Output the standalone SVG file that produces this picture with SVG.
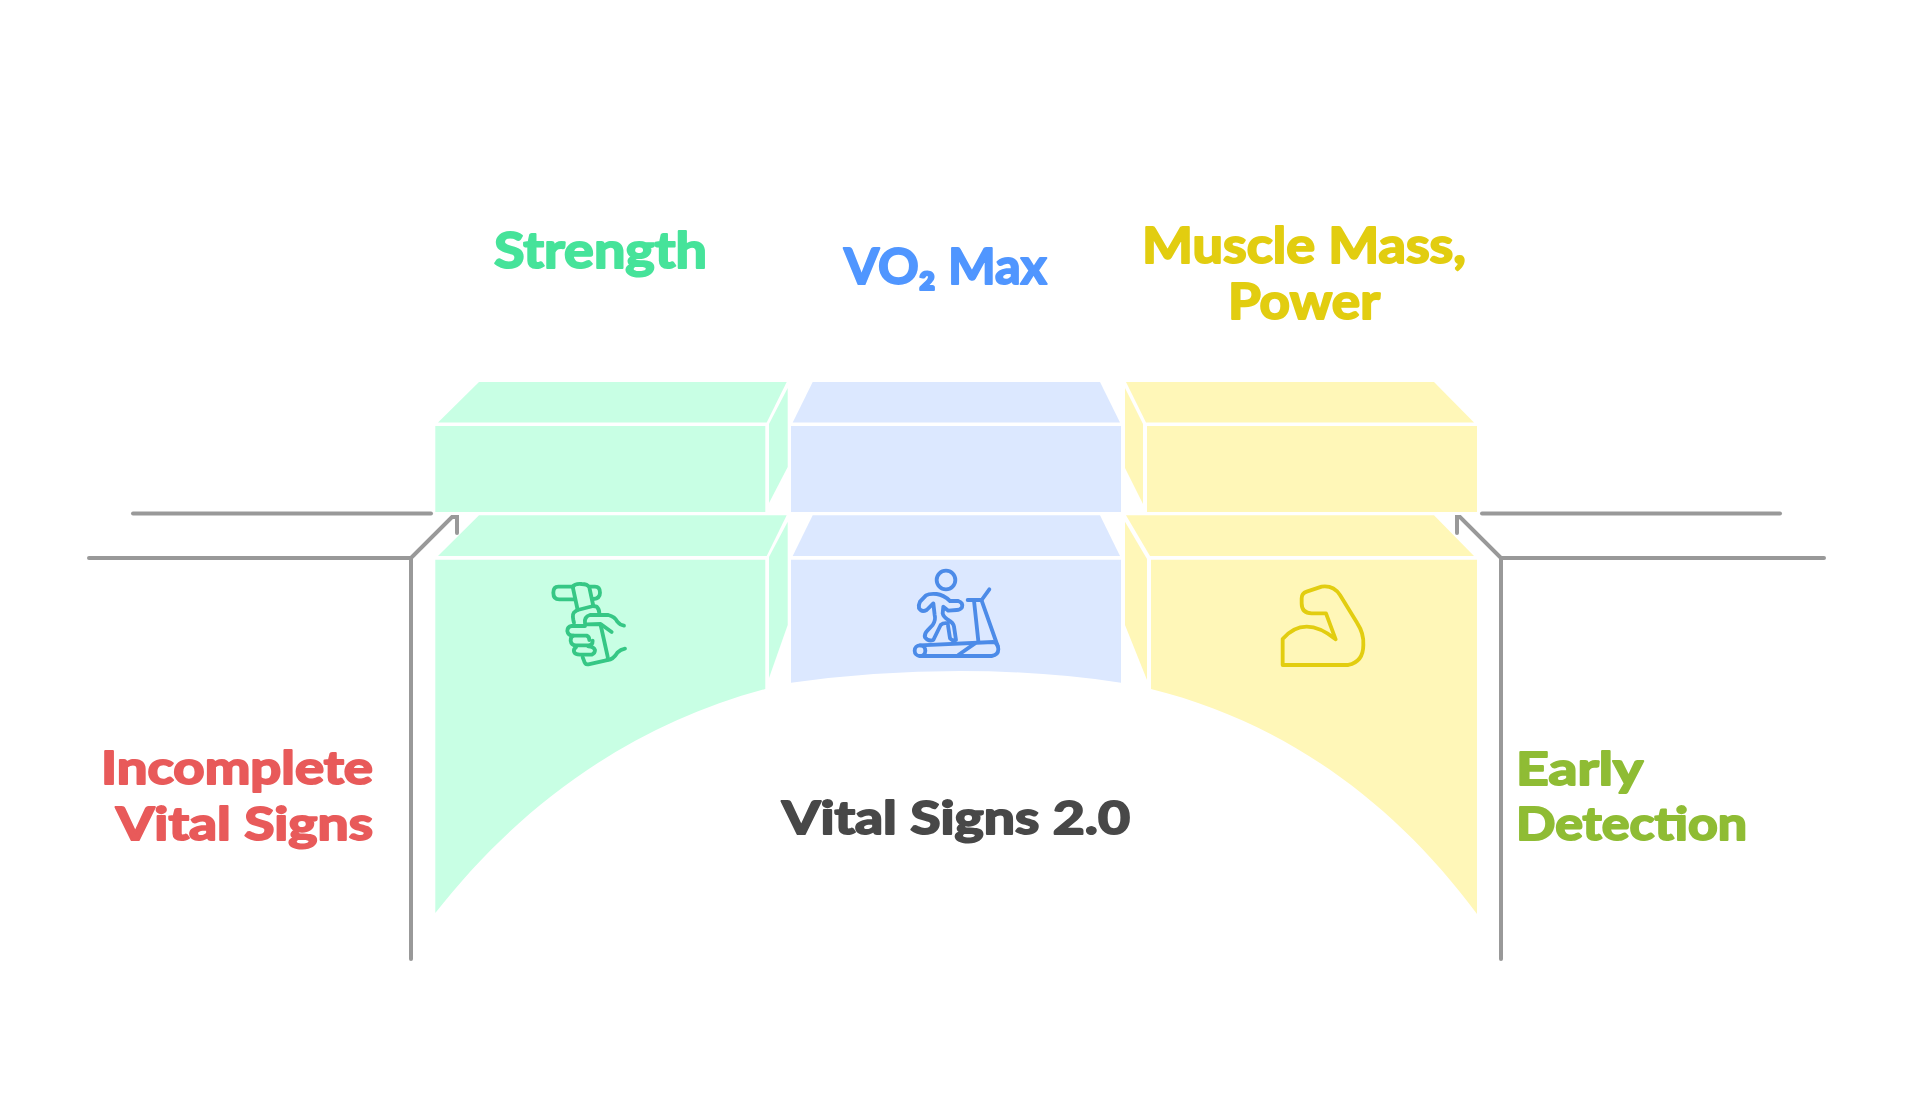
<svg xmlns="http://www.w3.org/2000/svg" width="1920" height="1118" viewBox="0 0 1920 1118">
<style>
.g{fill:#c8ffe4}.b{fill:#dce8ff}.y{fill:#fff7b8}
.c{fill:none;stroke:#999;stroke-width:4;stroke-linecap:round;stroke-linejoin:miter}
.ic{fill:none;stroke-width:11.500;stroke-linecap:round;stroke-linejoin:round}
text{font-family:"Lato","Noto Sans",sans-serif;font-weight:700;stroke-width:2;stroke-linejoin:round}
.t{font-size:46px}.u{font-size:50px}
</style>
<rect width="1920" height="1118" fill="#fff"/>
<g id="connectors">
<path class="c" d="M133 513.500H431"/>
<path class="c" d="M89 558H411L452 517H457V533"/>
<path class="c" d="M411 558V959"/>
<path class="c" d="M1482 513.500H1780"/>
<path class="c" d="M1824 558H1501L1460 517H1457V533"/>
<path class="c" d="M1501 558V959"/>
</g>
<g id="node-strength">
<polygon class="g" points="479,382 786.700,382 766.700,422.500 438,422.500"/>
<polygon class="g" points="787.700,388 769,424 769,503 787.700,467"/>
<rect class="g" x="435.300" y="426" width="330" height="86"/>
<polygon class="g" points="479,515.300 786.700,515.300 766.700,556 438,556"/>
<polygon class="g" points="787.700,521.700 769,557 769,678 787.700,625"/>
<path class="g" d="M435.300 559.700H765.300V689C630 725 520 805 435.300 913Z"/>
<g class="ic" stroke="#36c785" transform="translate(530 570) scale(.3333)">
<path d="M130 50H85Q70 50 70 68Q70 88 88 88H135"/>
<path d="M180 50H195Q210 50 210 68Q210 85 190 87"/>
<path d="M128 50Q135 40 155 42Q172 42 178 52L190 108L143 120Z"/>
<path d="M143 120L135 125Q126 130 130 150L132 158"/>
<path d="M190 108L200 110Q208 118 208 130"/>
<path d="M165 160Q162 140 180 135H235Q255 140 262 155Q270 165 282 167"/>
<path d="M170 163L212 162Q230 175 245 186"/>
<path d="M212 165L233 260Q236 270 225 272L175 283Q165 285 162 272L158 262"/>
<path d="M165 168H125Q112 170 112 183Q114 197 130 197H170Q178 200 178 210"/>
<path d="M130 197Q122 200 122 212Q124 226 138 226H175Q188 226 188 212"/>
<path d="M138 232Q130 237 132 245Q135 254 150 254H185Q195 250 195 240Q192 230 175 229"/>
<path d="M233 270Q250 268 262 248Q272 238 285 236"/>
</g>
<text class="u" x="494" y="268" fill="#46e39a" stroke="#46e39a" textLength="213" lengthAdjust="spacingAndGlyphs">Strength</text>
</g>
<g id="node-vo2">
<polygon class="b" points="812.700,382 1100,382 1120,422.500 792.700,422.500"/>
<rect class="b" x="791" y="426" width="330" height="86"/>
<polygon class="b" points="812.700,515.300 1100,515.300 1120,556 792.700,556"/>
<path class="b" d="M791 559.700H1121V682.700Q1045 671 960 671Q875 671 791 682.700Z"/>
<g class="ic" stroke="#4c8be8" transform="translate(900 560) scale(.3333)">
<circle cx="138" cy="60" r="28"/>
<path d="M60 125L78 106Q88 100 110 102Q130 104 150 123L175 123Q190 128 186 142Q180 150 170 150L145 152L130 140L128 160Q130 170 145 180Q160 188 162 200L168 240Q160 245 150 235L143 190Q130 188 122 195L100 240Q85 245 75 232Q72 222 82 212L98 195Q108 180 104 165L100 130L80 150Q65 158 57 145Q55 135 60 125Z"/>
<circle cx="60" cy="272" r="16"/>
<path d="M60 256L280 246Q295 250 295 268Q295 285 275 288H60"/>
<path d="M175 285L225 250"/>
<path d="M222 122L235 243"/>
<path d="M245 122L293 258"/>
<path d="M203 120H245L268 88"/>
</g>
<text class="u" x="844" y="284" fill="#5096ff" stroke="#5096ff" textLength="203" lengthAdjust="spacingAndGlyphs">VO₂ Max</text>
</g>
<g id="node-muscle">
<polygon class="y" points="1126,382 1434,382 1474,422.500 1146,422.500"/>
<polygon class="y" points="1125,388 1143,424 1143,504 1125,468"/>
<rect class="y" x="1147" y="426" width="330" height="86"/>
<polygon class="y" points="1126,515.300 1434,515.300 1474,556 1150,556"/>
<polygon class="y" points="1125,521.700 1147,559 1147,680 1125,625"/>
<path class="y" d="M1151 559.700H1477V914C1395 803 1285 722 1151 689Z"/>
<g class="ic" stroke="#e2cd10" transform="translate(1270 575) scale(.3333)">
<path d="M38 270V192Q70 155 110 155Q150 155 197 193L168 115H125Q95 115 95 85V70Q95 55 110 50L155 35Q190 30 210 60L262 145Q282 175 280 210Q280 260 235 270Z"/>
</g>
<text class="u" x="1142" y="263" fill="#e2cd10" stroke="#e2cd10" textLength="324" lengthAdjust="spacingAndGlyphs">Muscle Mass,</text>
<text class="u" x="1228" y="319" fill="#e2cd10" stroke="#e2cd10" textLength="152" lengthAdjust="spacingAndGlyphs">Power</text>
</g>
<g id="node-incomplete">
<text class="t" x="101" y="784" fill="#e85a5a" stroke="#e85a5a" textLength="272" lengthAdjust="spacingAndGlyphs">Incomplete</text>
<text class="t" x="116" y="840" fill="#e85a5a" stroke="#e85a5a" textLength="257" lengthAdjust="spacingAndGlyphs">Vital Signs</text>
</g>
<g id="node-early">
<text class="t" x="1516" y="785" fill="#8fbc34" stroke="#8fbc34" textLength="127" lengthAdjust="spacingAndGlyphs">Early</text>
<text class="t" x="1516" y="840" fill="#8fbc34" stroke="#8fbc34" textLength="231" lengthAdjust="spacingAndGlyphs">Detection</text>
</g>
<g id="node-center">
<text class="t" x="782" y="834" fill="#484848" stroke="#484848" textLength="348" lengthAdjust="spacingAndGlyphs">Vital Signs 2.0</text>
</g>
</svg>
